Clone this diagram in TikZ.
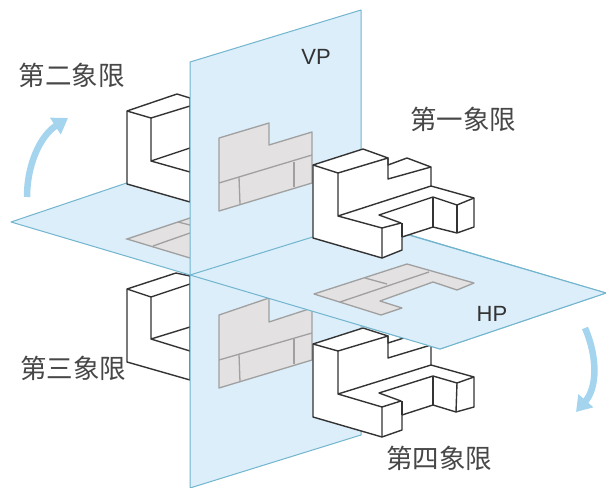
\documentclass[tikz,border=0pt]{standalone}
\usepackage{fontspec}
\newfontfamily\cjk{Noto Sans CJK SC}
\setmainfont{Liberation Sans}
\usetikzlibrary{arrows.meta}
\definecolor{planefill}{HTML}{DBEEF9}
\definecolor{planeline}{HTML}{72B5CE}
\definecolor{projfill}{HTML}{E3E1E1}
\definecolor{projline}{HTML}{A0A0A0}
\definecolor{arrowblue}{HTML}{A5D5EE}
\definecolor{objline}{HTML}{333333}
\tikzset{
  plane/.style={fill=planefill,draw=planeline,line width=1pt,line join=round},
  projface/.style={fill=projfill,draw=projline,line width=1.3pt,line join=round},
  projedge/.style={draw=projline,line width=1.3pt},
  objface/.style={fill=white,draw=objline,line width=1.4pt,line join=round},
  objedge/.style={draw=objline,line width=1.4pt,line join=round},
  swoosh/.style={draw=arrowblue,line width=6.5pt,-{Triangle[length=15pt,width=19pt]}},
  quad/.style={font=\cjk\fontsize{26.5}{26.5}\selectfont,text=black!72,inner sep=0pt},
  planename/.style={font=\fontsize{22}{22}\selectfont,text=black!80,inner sep=0pt}
}
\begin{document}
\begin{tikzpicture}[x=1pt,y=-1pt]
\useasboundingbox (0,0) rectangle (606,488);
\fill[white] (0,0) rectangle (606,488);
% third quadrant object
\draw[objface] (190,276) -- (176,273) -- (127,289) -- (127,362) -- (190,380) -- cycle;
\draw[objedge] (127,289) -- (151,297) -- (190,284);
\draw[objedge] (151,297) -- (151,339) -- (190,327);
\draw[objedge] (151,339) -- (190,351);
% horizontal plane, whole
\draw[plane] (11,222) -- (177,166) -- (606,293) -- (440,349) -- cycle;
% left projection on HP
\fill[projfill] (190,218) -- (127,239) -- (190,258) -- cycle;
\draw[projedge] (190,218) -- (127,239) -- (190,258);
\draw[projedge] (153,246) -- (190,233);
\draw[projedge] (178,222) -- (190,225);
% second quadrant object
\draw[objface] (190,98) -- (177,94) -- (127,111) -- (127,184) -- (190,202) -- cycle;
\draw[objedge] (127,111) -- (151,118) -- (190,106);
\draw[objedge] (151,118) -- (151,161) -- (190,148);
\draw[objedge] (151,161) -- (190,172);
% vertical plane
\draw[plane] (190,62) -- (361,10) -- (361,435) -- (190,488) -- cycle;
% projections on VP
\draw[projface] (219,138) -- (269,123) -- (269,145) -- (312,132) -- (312,183) -- (219,211) -- cycle;
\draw[projedge] (219,183) -- (312,155);
\draw[projedge] (239,177) -- (240,204);
\draw[projedge] (294,162) -- (294,187);
\draw[projface] (219,315) -- (269,298) -- (269,322) -- (312,308) -- (312,360) -- (219,388) -- cycle;
\draw[projedge] (219,360) -- (312,333);
\draw[projedge] (239,354) -- (240,382);
\draw[projedge] (294,339) -- (294,364);
% fourth quadrant object
\draw[objface] (313,344) -- (363,328) -- (388,336) -- (388,343) -- (407,337) -- (431,345) -- (431,365) -- (474,377) -- (474,407) -- (456,412) -- (433,405) -- (402,415) -- (402,430) -- (382,437) -- (313,417) -- cycle;
\draw[objedge] (313,344) -- (338,351) -- (388,336) -- (388,358) -- (431,345);
\draw[objedge] (338,351) -- (338,394) -- (431,365);
\draw[objedge] (338,394) -- (382,407) -- (382,437);
\draw[objedge] (382,407) -- (401,401) -- (379,393) -- (433,376) -- (457,383) -- (474,377);
\draw[objedge] (402,401) -- (402,415);
\draw[objedge] (433,376) -- (433,405);
\draw[objedge] (457,383) -- (456,412);
% front part of HP
\fill[planefill] (190,275) -- (361,222) -- (606,293) -- (440,349) -- cycle;
\draw[planeline,line width=1pt,line join=round] (190,275) -- (440,349) -- (606,293) -- (361,221);
\draw[planeline,line width=1pt] (190,275) -- (361,222);
% HP projection
\draw[projface] (314,294) -- (407,264) -- (474,283) -- (457,290) -- (433,282) -- (380,301) -- (402,308) -- (381,315) -- cycle;
\draw[projedge] (340,302) -- (429,272);
\draw[projedge] (365,278) -- (387,284);
% first quadrant object
\draw[objface] (313,165) -- (363,149) -- (388,158) -- (388,165) -- (407,158) -- (431,167) -- (431,186) -- (474,198) -- (474,227) -- (457,233) -- (433,227) -- (402,237) -- (402,250) -- (382,258) -- (313,238) -- cycle;
\draw[objedge] (313,165) -- (338,173) -- (388,158) -- (388,179) -- (431,167);
\draw[objedge] (338,173) -- (338,216) -- (431,186);
\draw[objedge] (338,216) -- (382,228) -- (382,258);
\draw[objedge] (382,228) -- (401,223) -- (379,215) -- (433,197) -- (457,205) -- (474,198);
\draw[objedge] (402,223) -- (402,237);
\draw[objedge] (433,197) -- (433,227);
\draw[objedge] (457,205) -- (457,233);
% arrows
\coordinate (aS) at (27,197);
\coordinate (aE) at (68,118);
\coordinate (bS) at (585,328);
\coordinate (bE) at (576,412);
\draw[swoosh] (aS) .. controls (27,165) and (40,136) .. (aE);
\draw[swoosh] (bS) .. controls (598,358) and (597,388) .. (bE);
% labels
\node[quad] (q2) at (72,75) {第二象限};
\node[quad] (q1) at (463,119) {第一象限};
\node[quad] (q3) at (73,368) {第三象限};
\node[quad] (q4) at (439,458) {第四象限};
\node[planename] (vp) at (316,57) {VP};
\node[planename] (hp) at (492,314) {HP};
\end{tikzpicture}
\end{document}
